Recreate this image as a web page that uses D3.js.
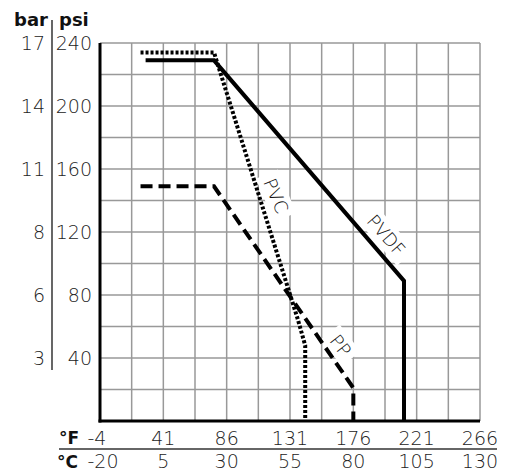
<!DOCTYPE html>
<html>
<head>
<meta charset="utf-8">
<script src="https://cdn.jsdelivr.net/npm/d3@7"></script>
<style>
  body { margin: 0; background: #fff; }
  text { font-family: "DejaVu Sans", sans-serif; }
</style>
</head>
<body>
<div id="chart"></div>
<script>
// axis labels
const celsiusTicks = [-20, 5, 30, 55, 80, 105, 130]
const fahrenheitTicks = [-4, 41, 86, 131, 176, 221, 266]
const psiTicks = [40, 80, 120, 160, 200, 240]
const barTicks = [3, 6, 8, 11, 14, 17]

// curves: temperature (°C) vs pressure (psi)
const pvdfTemp = [-2, 25, 100, 100]
const pvdfPsi = [229, 229, 89, 0]
const pvcTemp = [-4, 25, 58, 61, 61]
const pvcPsi = [234, 234, 65, 48, 0]
const ppTemp = [-4, 25, 80, 80]
const ppPsi = [149, 149, 21, 0]

const width = 509, height = 475
const marginL = 100, marginT = 43, plotW = 380, plotH = 378

const svg = d3.select('#chart')
    .append('svg')
    .attr('width', width)
    .attr('height', height)

const xScale = d3.scaleLinear().domain([-20, 130]).range([marginL, marginL + plotW])
const yScale = d3.scaleLinear().domain([0, 240]).range([marginT + plotH, marginT])

// grid
const gridX = d3.range(-20, 130.1, 12.5)
const gridY = d3.range(0, 240.1, 20)
const grid = svg.append('g').attr('stroke', '#999').attr('stroke-width', 1.5)
grid.selectAll('.gx').data(gridX).join('line')
    .attr('x1', d => xScale(d)).attr('x2', d => xScale(d))
    .attr('y1', yScale(240)).attr('y2', yScale(0))
grid.selectAll('.gy').data(gridY).join('line')
    .attr('x1', xScale(-20)).attr('x2', xScale(130))
    .attr('y1', d => yScale(d)).attr('y2', d => yScale(d))

// main axes
svg.append('line')
    .attr('x1', xScale(-20)).attr('x2', xScale(-20))
    .attr('y1', yScale(240)).attr('y2', yScale(0) + 1.5)
    .attr('stroke', '#000').attr('stroke-width', 3)
svg.append('line')
    .attr('x1', xScale(-20) - 1.5).attr('x2', xScale(130))
    .attr('y1', yScale(0)).attr('y2', yScale(0))
    .attr('stroke', '#000').attr('stroke-width', 3)

// curve labels with white box (drawn under the curves)
const curveLabels = [
    { text: 'PVC', t: 49.5, p: 143, angle: 67 },
    { text: 'PVDF', t: 93, p: 118, angle: 49 },
    { text: 'PP', t: 75, p: 48, angle: 52 }
]
curveLabels.forEach(l => {
    const g = svg.append('g')
        .attr('transform', `translate(${xScale(l.t)},${yScale(l.p)}) rotate(${l.angle})`)
    const w = l.text.length * 13 + 8
    g.append('rect')
        .attr('x', -w / 2).attr('y', -12)
        .attr('width', w).attr('height', 24)
        .attr('fill', '#fff')
    g.append('text')
        .attr('text-anchor', 'middle')
        .attr('dominant-baseline', 'central')
        .attr('font-size', 18).attr('font-weight', 300)
        .attr('fill', '#111')
        .text(l.text)
})

// curves
const line = d3.line().x(d => xScale(d[0])).y(d => yScale(d[1]))
const series = [
    { name: 'PVDF', temp: pvdfTemp, psi: pvdfPsi, dash: null },
    { name: 'PVC', temp: pvcTemp, psi: pvcPsi, dash: '3,2' },
    { name: 'PP', temp: ppTemp, psi: ppPsi, dash: '12,6' }
]
series.forEach(s => {
    svg.append('path')
        .datum(s.temp.map((t, i) => [t, s.psi[i]]))
        .attr('d', line)
        .attr('fill', 'none')
        .attr('stroke', '#000')
        .attr('stroke-width', 4)
        .attr('stroke-dasharray', s.dash)
})

// left labels
const labelColor = '#222'
svg.append('text').attr('x', 14).attr('y', 26)
    .attr('font-size', 18).attr('font-weight', 'bold').attr('fill', '#111').text('bar')
svg.append('text').attr('x', 59).attr('y', 26)
    .attr('font-size', 18).attr('font-weight', 'bold').attr('fill', '#111').text('psi')
svg.append('line')
    .attr('x1', 52).attr('x2', 52).attr('y1', 20).attr('y2', 370)
    .attr('stroke', '#000').attr('stroke-width', 1.2)

svg.append('g').selectAll('text').data(psiTicks).join('text')
    .attr('x', 92).attr('y', d => yScale(d))
    .attr('text-anchor', 'end')
    .attr('dominant-baseline', 'central')
    .attr('font-size', 19).attr('font-weight', 200).attr('fill', labelColor)
    .text(d => d)
svg.append('g').selectAll('text').data(barTicks).join('text')
    .attr('x', 45).attr('y', (d, i) => yScale(psiTicks[i]))
    .attr('text-anchor', 'end')
    .attr('dominant-baseline', 'central')
    .attr('font-size', 19).attr('font-weight', 200).attr('fill', labelColor)
    .text(d => d)

// bottom labels
svg.append('g').selectAll('text').data(fahrenheitTicks).join('text')
    .attr('x', (d, i) => xScale(celsiusTicks[i]) + (i === 0 ? -3 : 0))
    .attr('y', 438)
    .attr('text-anchor', 'middle')
    .attr('dominant-baseline', 'central')
    .attr('font-size', 19).attr('font-weight', 200).attr('fill', labelColor)
    .text(d => d)
svg.append('g').selectAll('text').data(celsiusTicks).join('text')
    .attr('x', d => xScale(d) + (d === -20 ? 3 : 0))
    .attr('y', 461)
    .attr('text-anchor', 'middle')
    .attr('dominant-baseline', 'central')
    .attr('font-size', 19).attr('font-weight', 200).attr('fill', labelColor)
    .text(d => d)
svg.append('text').attr('x', 59).attr('y', 438)
    .attr('dominant-baseline', 'central')
    .attr('font-size', 17).attr('font-weight', 'bold').attr('fill', '#111').text('°F')
svg.append('text').attr('x', 57).attr('y', 462)
    .attr('dominant-baseline', 'central')
    .attr('font-size', 17).attr('font-weight', 'bold').attr('fill', '#111').text('°C')
svg.append('line')
    .attr('x1', 59).attr('x2', 497).attr('y1', 449).attr('y2', 449)
    .attr('stroke', '#666').attr('stroke-width', 2)
</script>
</body>
</html>
